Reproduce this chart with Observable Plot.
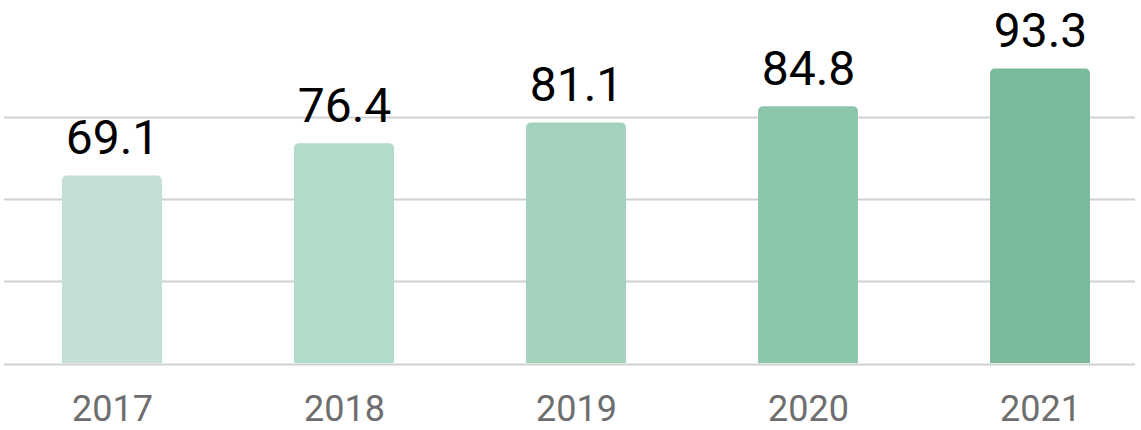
<!DOCTYPE html>
<html><head><meta charset="utf-8">
<script src="https://cdn.jsdelivr.net/npm/d3@7"></script>
<script src="https://cdn.jsdelivr.net/npm/@observablehq/plot@0.6"></script>
<style>body{margin:0;background:#fff} svg{display:block}</style>
</head><body><div id="chart"></div>
<script>
const years = ["2017", "2018", "2019", "2020", "2021"];
const values = [69.1, 76.4, 81.1, 84.8, 93.3];
const barColors = ["#c4dfd3", "#b2dbca", "#a3d1bb", "#8bc8ab", "#7bb99c"];
const gridTicks = [26.7, 45.25, 63.8, 82.35];
const yDomain = [26.7, 100.9];

const data = years.map((year, i) => ({year, value: values[i], color: barColors[i]}));

const chart = Plot.plot({
  width: 1141,
  height: 430,
  marginLeft: 4,
  marginRight: 6,
  marginTop: 35,
  marginBottom: 67,
  x: {domain: years, range: [60, 1092], paddingInner: 0.5708, paddingOuter: 0, axis: null},
  y: {domain: yDomain, axis: null},
  color: {type: "identity"},
  style: {fontFamily: "Roboto, sans-serif", background: "#fff"},
  marks: [
    Plot.ruleY(gridTicks.slice(1), {stroke: "#cfd2d1", strokeWidth: 2}),
    Plot.barY(data, {x: "year", y1: yDomain[0], y2: "value", fill: "color", ry1: 5}),
    Plot.ruleY([gridTicks[0]], {stroke: "#cfd2d1", strokeWidth: 2, dy: 1}),
    Plot.text(data, {x: "year", y: "value", text: d => d.value.toFixed(1), lineAnchor: "bottom", dy: -22, fontSize: 48, fill: "#000"}),
    Plot.axisX({tickSize: 0, tickPadding: 32, fontSize: 36, fill: "#6e6e6e", label: null})
  ]
});
document.getElementById("chart").append(chart);
</script>
</body></html>
